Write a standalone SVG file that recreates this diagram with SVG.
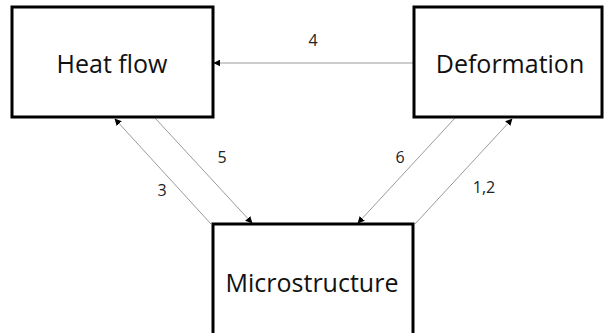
<svg xmlns="http://www.w3.org/2000/svg" width="605" height="333" viewBox="0 0 605 333">
  <style>
    .box { fill: #ffffff; stroke: #000000; stroke-width: 3; }
    .name { font-family: "Open Sans", "Liberation Sans", sans-serif; font-size: 25px; fill: #111111; text-anchor: middle; }
    .link { stroke: #9a9a9a; stroke-width: 1; fill: none; marker-end: url(#head); }
    .num { font-family: "Open Sans", "Liberation Sans", sans-serif; font-size: 16px; fill: #222222; text-anchor: middle; }
  </style>
  <defs>
    <marker id="head" viewBox="0 0 10 10" refX="9" refY="5" markerWidth="7" markerHeight="7" markerUnits="userSpaceOnUse" orient="auto">
      <path d="M0,0 L10,5 L0,10 z" fill="#000000"/>
    </marker>
  </defs>
  <rect width="605" height="333" fill="#ffffff"/>

  <g id="connectors">
    <line class="link" x1="413" y1="63" x2="214" y2="63"/>
    <line class="link" x1="211" y1="224" x2="115" y2="119"/>
    <line class="link" x1="155" y1="118" x2="252" y2="223"/>
    <line class="link" x1="455" y1="118" x2="358" y2="223"/>
    <line class="link" x1="415" y1="224" x2="512" y2="119"/>
    <text class="num" x="313" y="46">4</text>
    <text class="num" x="162" y="196">3</text>
    <text class="num" x="222" y="163">5</text>
    <text class="num" x="400" y="163">6</text>
    <text class="num" x="484" y="193">1,2</text>
  </g>

  <g id="heat-flow">
    <rect class="box" x="12" y="7" width="201" height="110"/>
    <text class="name" x="112" y="73">Heat flow</text>
  </g>

  <g id="deformation">
    <rect class="box" x="414" y="7" width="188" height="110"/>
    <text class="name" x="510" y="73">Deformation</text>
  </g>

  <g id="microstructure">
    <rect class="box" x="213" y="224" width="200" height="120"/>
    <text class="name" x="312" y="292">Microstructure</text>
  </g>
</svg>
